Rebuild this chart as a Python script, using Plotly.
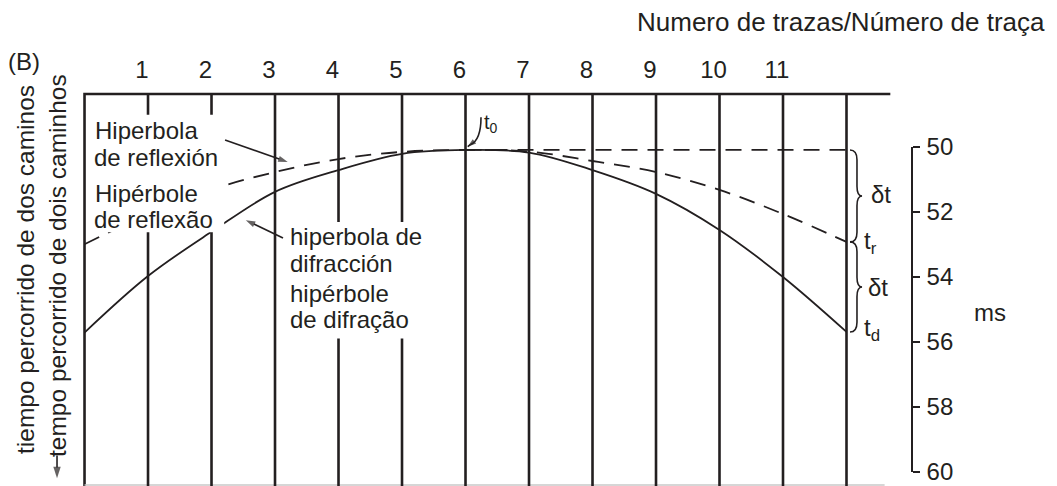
import plotly.graph_objects as go

# ---- data -----------------------------------------------------------------
trace_no = list(range(13))                        # 0 = left edge of the section
trace_tick_labels = [str(i) for i in range(1, 12)]
# two-way travel time (ms) read at each trace
t_diffraction = [55.72, 53.98, 52.62, 51.39, 50.72, 50.22, 50.10,
                 50.18, 50.72, 51.45, 52.56, 54.01, 55.70]
t_reflection = [53.00, 52.08, 51.32, 50.78, 50.38, 50.16, 50.10,
                50.15, 50.44, 50.78, 51.33, 52.07, 52.93]
ms_ticks = [50, 52, 54, 56, 58, 60]

# ---- canvas and scales ----------------------------------------------------
W, H = 1057, 486
X_RANGE = [-1.331, 15.315]       # trace units across the full width
Y_RANGE = [60.44, 45.486]        # ms down the full height (time increases downward)
T_TOP = 48.38                    # time level of the top frame line
T_BOTTOM = 60.41
X_FRAME_END = 12.69
INK = "#231f20"
FONT = "Liberation Sans, Arial, Helvetica, sans-serif"
FS = 24


def px(x):
    return x / W


def py(y):
    return 1 - y / H


fig = go.Figure()

# vertical trace lines 1..12
vx, vy = [], []
for n in trace_no[1:]:
    vx += [n, n, None]
    vy += [T_TOP, 61, None]
fig.add_trace(go.Scatter(x=vx, y=vy, xaxis="x2", yaxis="y", mode="lines",
                         line=dict(color=INK, width=2.6), hoverinfo="skip"))

# frame: left edge and top line
fig.add_trace(go.Scatter(x=[X_FRAME_END, trace_no[0], trace_no[0]],
                         y=[T_TOP, T_TOP, 61], mode="lines",
                         line=dict(color=INK, width=2.6), hoverinfo="skip"))
# faint baseline at the bottom
fig.add_trace(go.Scatter(x=[trace_no[0], 12.6], y=[T_BOTTOM, T_BOTTOM], mode="lines",
                         line=dict(color="#c8c8c8", width=1.5), hoverinfo="skip"))

# reflection hyperbola (dashed) and diffraction hyperbola (solid)
fig.add_trace(go.Scatter(x=trace_no, y=t_reflection, xaxis="x", yaxis="y2",
                         mode="lines", line=dict(color=INK, width=1.8, dash="16px,10px",
                                                 shape="spline", smoothing=1.0),
                         hoverinfo="skip"))
fig.add_trace(go.Scatter(x=trace_no, y=t_diffraction, xaxis="x", yaxis="y2",
                         mode="lines", line=dict(color=INK, width=1.8,
                                                 shape="spline", smoothing=1.0),
                         hoverinfo="skip"))

# apex reference time t0 carried to the last trace
BRACE_X = 12.055
t0 = t_diffraction[6]
fig.add_trace(go.Scatter(x=[trace_no[6], BRACE_X], y=[t0, t0], xaxis="x", yaxis="y2",
                         mode="lines", line=dict(color=INK, width=1.8, dash="16px,10px"),
                         hoverinfo="skip"))


def brace(x0, ta, tb, spine=0.11, tip=0.19, r=0.3):
    tm = (ta + tb) / 2
    xs, xt = x0 + spine, x0 + tip
    return (f"M {x0},{ta} Q {xs},{ta} {xs},{ta + r} L {xs},{tm - r} "
            f"Q {xs},{tm} {xt},{tm} Q {xs},{tm} {xs},{tm + r} "
            f"L {xs},{tb - r} Q {xs},{tb} {x0},{tb}")


def add_pointer(x_tail, t_tail, x_head, t_head, head=10):
    # straight leader line with a filled arrowhead oriented along the segment
    fig.add_trace(go.Scatter(x=[x_tail, x_head], y=[t_tail, t_head], mode="lines+markers",
                             line=dict(color=INK, width=1.6),
                             marker=dict(symbol="arrow", size=[0, head], angleref="previous",
                                         color=INK, line=dict(width=0)),
                             hoverinfo="skip"))


add_pointer(2.213, 49.79, 3.20, 50.47)      # to the reflection hyperbola
add_pointer(3.126, 52.81, 2.54, 52.26)      # to the diffraction hyperbola
add_pointer(6.080, 49.93, 6.035, 50.00, head=9)   # tip of the t0 pointer
add_pointer(-0.433, 59.50, -0.433, 60.20, head=12)   # time increases downward

shapes = [
    # white backing behind the two label blocks
    dict(type="rect", xref="x", yref="y", x0=0.09, x1=2.2, y0=49.02, y1=52.63,
         fillcolor="white", line=dict(width=0), layer="above"),
    dict(type="rect", xref="x", yref="y", x0=3.19, x1=5.42, y0=52.32, y1=55.9,
         fillcolor="white", line=dict(width=0), layer="above"),
    # delta-t braces
    dict(type="path", xref="x", yref="y2", path=brace(BRACE_X, t0, t_reflection[12]),
         line=dict(color=INK, width=1.6), layer="above"),
    dict(type="path", xref="x", yref="y2",
         path=brace(BRACE_X, t_reflection[12], t_diffraction[12]),
         line=dict(color=INK, width=1.6), layer="above"),
    # curved stem of the t0 pointer
    dict(type="path", xref="x", yref="y", path="M 6.244,49.09 Q 6.244,49.79 6.080,49.93",
         line=dict(color=INK, width=1.6), layer="above"),
]


def label(text, x, y, xanchor="left", size=FS, angle=0):
    return dict(text=text, xref="paper", yref="paper", x=px(x), y=py(y),
                xanchor=xanchor, yanchor="middle", showarrow=False, textangle=angle,
                borderpad=0, font=dict(family=FONT, size=size, color=INK))


annotations = [
    label("(B)", 7, 62),
    label("Numero de trazas/Número de traça", 636, 22, size=26),
    label("Hiperbola", 94, 131),
    label("de reflexión", 93, 158),
    label("Hipérbole", 94, 193),
    label("de reflexão", 93, 219),
    label("hiperbola de", 289, 237),
    label("difracción", 289, 263),
    label("hipérbole", 289, 293),
    label("de difração", 289, 319),
    label("t<sub>0</sub>", 483, 124, size=20),
    label("δt", 870, 194),
    label("t<sub>r</sub>", 863, 242),
    label("δt", 867, 287),
    label("t<sub>d</sub>", 863, 329),
    label("ms", 990, 312, xanchor="center"),
    label("tiempo percorrido de dos caminos", 25, 270, xanchor="center", angle=-90,
          size=24.5),
    label("tempo percorrido de dois caminhos", 57, 266, xanchor="center", angle=-90,
          size=24.5),
]

fig.update_layout(
    template="none",
    width=W, height=H, margin=dict(l=0, r=0, t=0, b=0, pad=0, autoexpand=False),
    paper_bgcolor="white", plot_bgcolor="rgba(0,0,0,0)", showlegend=False,
    shapes=shapes, annotations=annotations,
    xaxis=dict(range=X_RANGE, visible=False, domain=[0, 1], automargin=False),
    xaxis2=dict(range=X_RANGE, overlaying="x", anchor="free", position=py(94), side="top",
                tickvals=trace_no[1:12], ticktext=trace_tick_labels, ticks="",
                showgrid=False, zeroline=False, showline=False, automargin=False,
                ticklabelstandoff=11, ticklabelshift=-6,
                tickfont=dict(family=FONT, size=FS, color=INK)),
    yaxis=dict(range=Y_RANGE, visible=False, domain=[0, 1], automargin=False),
    yaxis2=dict(range=[60, 50], domain=[py(471.7), py(146.7)], anchor="free",
                position=px(912), side="right", tickvals=ms_ticks,
                ticks="outside", ticklen=7, tickwidth=1.5, tickcolor=INK,
                showline=True, linewidth=1.5, linecolor=INK,
                showgrid=False, zeroline=False, ticklabelstandoff=2, automargin=False,
                tickfont=dict(family=FONT, size=FS, color=INK)),
)

fig.write_html("out.html")
